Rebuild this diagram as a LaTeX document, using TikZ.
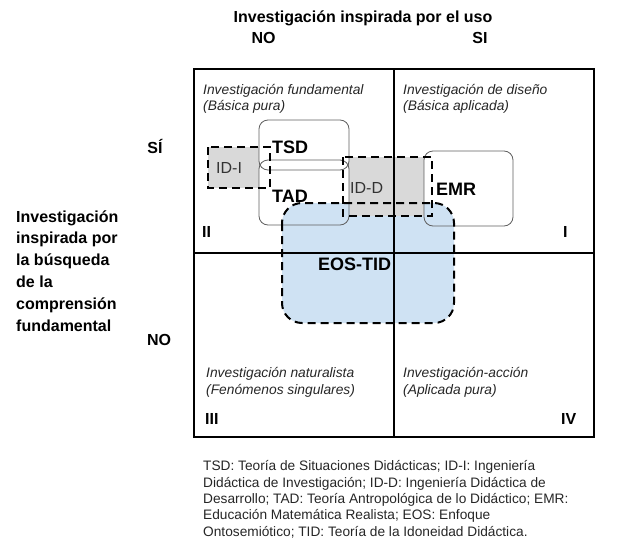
\documentclass[tikz,border=0pt]{standalone}
\usepackage{fontspec}
\setmainfont{Liberation Sans}
\definecolor{idgray}{RGB}{217,217,217}
\definecolor{eosblue}{RGB}{207,226,243}
\definecolor{boxline}{RGB}{95,95,95}
\begin{document}
\begin{tikzpicture}[x=1pt,y=-1pt,
  gridline/.style={line width=2pt},
  solidfill/.style={fill=white, rounded corners=9pt},
  solidline/.style={draw=boxline, line width=0.8pt, rounded corners=9pt},
  dashline/.style={draw=black, line width=2pt, dash pattern=on 8pt off 5pt},
  bigbold/.style={font=\fontsize{16}{19}\selectfont\bfseries, inner sep=0pt, anchor=base west},
  boxbold/.style={font=\fontsize{18}{21}\selectfont\bfseries, inner sep=0pt, anchor=base west},
  idlabel/.style={font=\fontsize{16}{19}\selectfont, inner sep=0pt, anchor=base west, text=black!80},
  quad/.style={font=\fontsize{13.8}{16}\selectfont\itshape, inner sep=0pt, anchor=base west, text=black!85},
  capt/.style={font=\fontsize{13.7}{16}\selectfont, inner sep=0pt, anchor=base west, text=black!85}
]
\useasboundingbox (0,0) rectangle (638,557);

% fills
\fill[idgray] (208,147) rectangle (270,188);
\fill[idgray] (343,157) rectangle (432,216);
\path[solidfill] (259,120) rectangle (349,170);
\path[solidfill] (259,160) rectangle (349,225);
\path[solidfill] (424,151) rectangle (513,226);
\fill[eosblue, rounded corners=20pt] (282,203) rectangle (454,323);
\fill[idgray] (349.5,203) rectangle (423.5,216);

% grid
\draw[gridline] (194,69) rectangle (594,437);
\draw[gridline] (394,69) -- (394,437);
\draw[gridline] (194,253) -- (594,253);

% solid boxes
\draw[solidline] (259,120) rectangle (349,170);
\draw[solidline] (259,160) rectangle (349,225);
\draw[solidline] (424,151) rectangle (513,226);

% dashed boxes
\draw[dashline] (208,147) rectangle (270,188);
\draw[dashline] (343,157) rectangle (432,216);
\draw[dashline, rounded corners=20pt] (282,203) rectangle (454,323);

% box labels
\node[boxbold] (tsd) at (272,153) {TSD};
\node[boxbold] (tad) at (272,202) {TAD};
\node[idlabel] (idi) at (216,173) {ID-I};
\node[idlabel] (idd) at (350,193) {ID-D};
\node[boxbold] (emr) at (436,195) {EMR};
\node[boxbold] (eos) at (318,270) {EOS-TID};

% quadrant numerals
\node[bigbold] (qii) at (202,237) {II};
\node[bigbold] (qi) at (563,237) {I};
\node[bigbold] (qiii) at (205,424) {III};
\node[bigbold] (qiv) at (561,424) {IV};

% quadrant texts
\node[quad] (q1a) at (203,94) {Investigación fundamental};
\node[quad] (q1b) at (203,110) {(Básica pura)};
\node[quad] (q2a) at (403,94) {Investigación de diseño};
\node[quad] (q2b) at (403,110) {(Básica aplicada)};
\node[quad] (q3a) at (206,377) {Investigación naturalista};
\node[quad] (q3b) at (206,394) {(Fenómenos singulares)};
\node[quad] (q4a) at (403,377) {Investigación-acción};
\node[quad] (q4b) at (403,394) {(Aplicada pura)};

% header
\node[bigbold, anchor=base] (hdr) at (363,22.5) {Investigación inspirada por el uso};
\node[bigbold, anchor=base] (hno) at (263.5,43) {NO};
\node[bigbold, anchor=base] (hsi) at (480,43) {SI};

% left side
\node[bigbold, anchor=base] (lsi) at (155,153) {SÍ};
\node[bigbold, anchor=base] (lno) at (159,345) {NO};
\node[bigbold] (l1) at (16,222) {Investigación};
\node[bigbold] (l2) at (16,243.8) {inspirada por};
\node[bigbold] (l3) at (16,265.6) {la búsqueda};
\node[bigbold] (l4) at (16,287.4) {de la};
\node[bigbold] (l5) at (16,309.2) {comprensión};
\node[bigbold] (l6) at (16,331) {fundamental};

% caption
\node[capt] (c1) at (203,470.7) {TSD: Teoría de Situaciones Didácticas; ID-I: Ingeniería};
\node[capt] (c2) at (203,487) {Didáctica de Investigación; ID-D: Ingeniería Didáctica de};
\node[capt] (c3) at (203,503.3) {Desarrollo; TAD: Teoría Antropológica de lo Didáctico; EMR:};
\node[capt] (c4) at (203,519.6) {Educación Matemática Realista; EOS: Enfoque};
\node[capt] (c5) at (203,536) {Ontosemiótico; TID: Teoría de la Idoneidad Didáctica.};
\end{tikzpicture}
\end{document}
